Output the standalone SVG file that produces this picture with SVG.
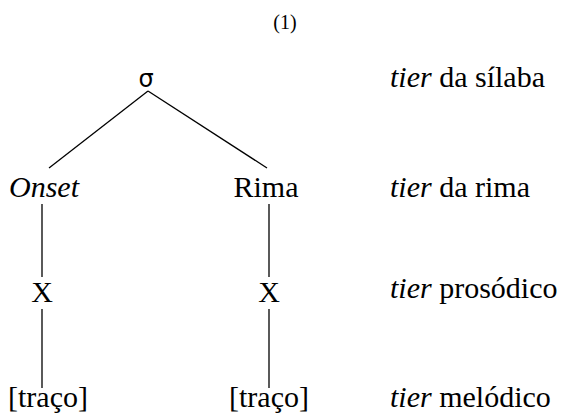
<svg xmlns="http://www.w3.org/2000/svg" width="563" height="418" viewBox="0 0 563 418">
<style>
.t{font-family:"Liberation Serif",Tinos,"Times New Roman","DejaVu Serif",serif;font-size:30px;fill:#000}
.i{font-style:italic}
.m{text-anchor:middle}
.num{font-size:20px}
.c line{stroke:#000;stroke-width:1.3}
</style>
<rect width="563" height="418" fill="#fff"/>
<text class="t m num" x="285" y="29">(1)</text>
<g class="c" id="connectors">
<line x1="148" y1="91" x2="49" y2="168"/>
<line x1="148" y1="91" x2="267" y2="168"/>
<line x1="42" y1="204" x2="42" y2="277"/>
<line x1="269" y1="204" x2="269" y2="277"/>
<line x1="42" y1="309" x2="42" y2="388"/>
<line x1="269" y1="309" x2="269" y2="388"/>
</g>
<g id="sigma"><text x="146" y="87" text-anchor="middle" font-family="DejaVu Sans, sans-serif" font-size="24">σ</text></g>
<g id="onset"><text class="t i m" x="44" y="197">Onset</text></g>
<g id="rima"><text class="t m" x="266" y="197">Rima</text></g>
<g id="x1"><text class="t m" x="42" y="302">X</text></g>
<g id="x2"><text class="t m" x="269" y="302">X</text></g>
<g id="traco1"><text class="t m" x="48" y="407">[traço]</text></g>
<g id="traco2"><text class="t m" x="269" y="407">[traço]</text></g>
<g id="labels">
<text class="t" x="390" y="87"><tspan class="i">tier</tspan> da sílaba</text>
<text class="t" x="390" y="197"><tspan class="i">tier</tspan> da rima</text>
<text class="t" x="390" y="298"><tspan class="i">tier</tspan> prosódico</text>
<text class="t" x="390" y="407"><tspan class="i">tier</tspan> melódico</text>
</g>
</svg>
